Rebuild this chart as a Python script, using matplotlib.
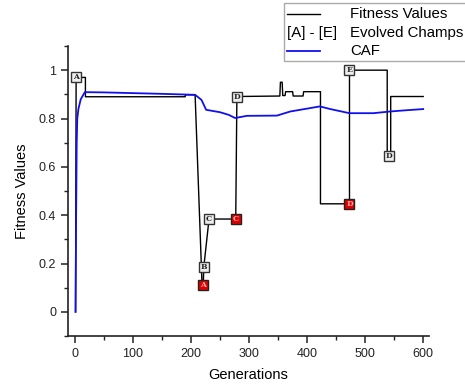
import matplotlib
matplotlib.use("Agg")
from matplotlib import pyplot as plt
from matplotlib.lines import Line2D
from matplotlib.patches import Rectangle
from matplotlib.ticker import MultipleLocator, FuncFormatter

plt.rcParams["font.family"] = ["Liberation Sans", "DejaVu Sans"]

# fitness of the best individual per generation (step trace)
fit_gen = [1, 2, 18, 18, 190, 190, 207, 219, 221, 222, 231, 277, 279,
           353, 354, 357, 358, 362, 363, 375, 376, 393, 394, 423, 423,
           473, 473, 538, 538, 544, 544, 600]
fit_val = [0.0, 0.97, 0.97, 0.89, 0.89, 0.898, 0.898, 0.11, 0.11, 0.186,
           0.384, 0.384, 0.891, 0.893, 0.95, 0.95, 0.895, 0.895, 0.911,
           0.911, 0.893, 0.893, 0.911, 0.911, 0.447, 0.447, 1.0, 1.0,
           0.643, 0.643, 0.891, 0.891]

# CAF curve
caf_gen = [1, 2, 3, 4, 6, 10, 17, 50, 100, 150, 207, 218, 226, 250, 265,
           276, 296, 348, 371, 388, 422, 440, 473, 514, 543, 570, 600]
caf_val = [0.0, 0.4, 0.7, 0.8, 0.84, 0.88, 0.909, 0.908, 0.905, 0.902,
           0.898, 0.877, 0.836, 0.826, 0.815, 0.802, 0.811, 0.812, 0.829,
           0.836, 0.85, 0.839, 0.822, 0.822, 0.829, 0.834, 0.839]

# evolved champions
champ_gen = [2, 222, 231, 279, 473, 541]
champ_val = [0.97, 0.186, 0.384, 0.891, 1.0, 0.643]
champ_lbl = ["A", "B", "C", "D", "E", "D"]

red_gen = [221, 277, 473]
red_val = [0.11, 0.384, 0.447]
red_lbl = ["A", "C", "D"]

fig = plt.figure(figsize=(4.65, 3.85), dpi=100)
ax = fig.add_axes([68 / 465, 49 / 385, 361 / 465, 290 / 385])

ax.plot(fit_gen, fit_val, color="black", lw=1.0, zorder=2)
ax.plot(caf_gen, caf_val, color="#1010ee", lw=1.3, zorder=3)

ax.plot(champ_gen, champ_val, ls="none", marker="s", ms=7.5,
        mfc="#eeeeee", mec="#333333", mew=1.0, zorder=4)
ax.plot(red_gen, red_val, ls="none", marker="s", ms=7.5,
        mfc="#e00000", mec="#222222", mew=1.0, zorder=4)
for g, v, s in zip(champ_gen, champ_val, champ_lbl):
    ax.text(g, v, s, ha="center", va="center", fontsize=5.5,
            family="DejaVu Serif", fontweight="bold", color="#222222", zorder=5)
for g, v, s in zip(red_gen, red_val, red_lbl):
    ax.text(g, v, s, ha="center", va="center", fontsize=5.5,
            family="DejaVu Serif", fontweight="bold", color="#ffb0b0", zorder=5)

ax.set_xlim(-12, 610)
ax.set_ylim(-0.1, 1.1)
ax.spines["top"].set_visible(False)
ax.spines["right"].set_visible(False)
for sp in ("left", "bottom"):
    ax.spines[sp].set_linewidth(1.2)
    ax.spines[sp].set_color("#222222")

ax.xaxis.set_major_locator(MultipleLocator(100))
ax.xaxis.set_minor_locator(MultipleLocator(50))
ax.yaxis.set_major_locator(MultipleLocator(0.2))
ax.yaxis.set_minor_locator(MultipleLocator(0.1))
ax.yaxis.set_major_formatter(FuncFormatter(lambda v, p: "%g" % round(v, 2)))
ax.tick_params(which="major", direction="out", length=5, width=1.1,
               labelsize=9, colors="#222222")
ax.tick_params(which="minor", direction="out", length=3, width=1.0,
               colors="#222222")

ax.set_xlabel("Generations", fontsize=10.5, labelpad=6)
ax.set_ylabel("Fitness Values", fontsize=10.5, labelpad=7)

# legend box, built by hand so the middle row can show a text key
W, H = 465.0, 385.0
fig.patches.append(Rectangle((284 / W, 1 - 61 / H), 200 / W, 58 / H,
                             transform=fig.transFigure, fill=True,
                             fc="white", ec="#aaaaaa", lw=1.0, zorder=10))
rows = [14, 33, 51]
fig.lines.append(Line2D([287 / W, 320 / W], [1 - rows[0] / H] * 2,
                        transform=fig.transFigure, color="black", lw=1.0,
                        zorder=11))
fig.lines.append(Line2D([287 / W, 320 / W], [1 - rows[2] / H] * 2,
                        transform=fig.transFigure, color="#1010ee", lw=1.3,
                        zorder=11))
fig.text(287 / W, 1 - rows[1] / H, "[A] - [E]", fontsize=10.8, va="center",
         ha="left", zorder=11)
for y, s in zip(rows, ["Fitness Values", "Evolved Champs", "CAF"]):
    fig.text(350 / W, 1 - y / H, s, fontsize=10.8, va="center", ha="left",
             zorder=11)

fig.savefig("out.png", dpi=100)
